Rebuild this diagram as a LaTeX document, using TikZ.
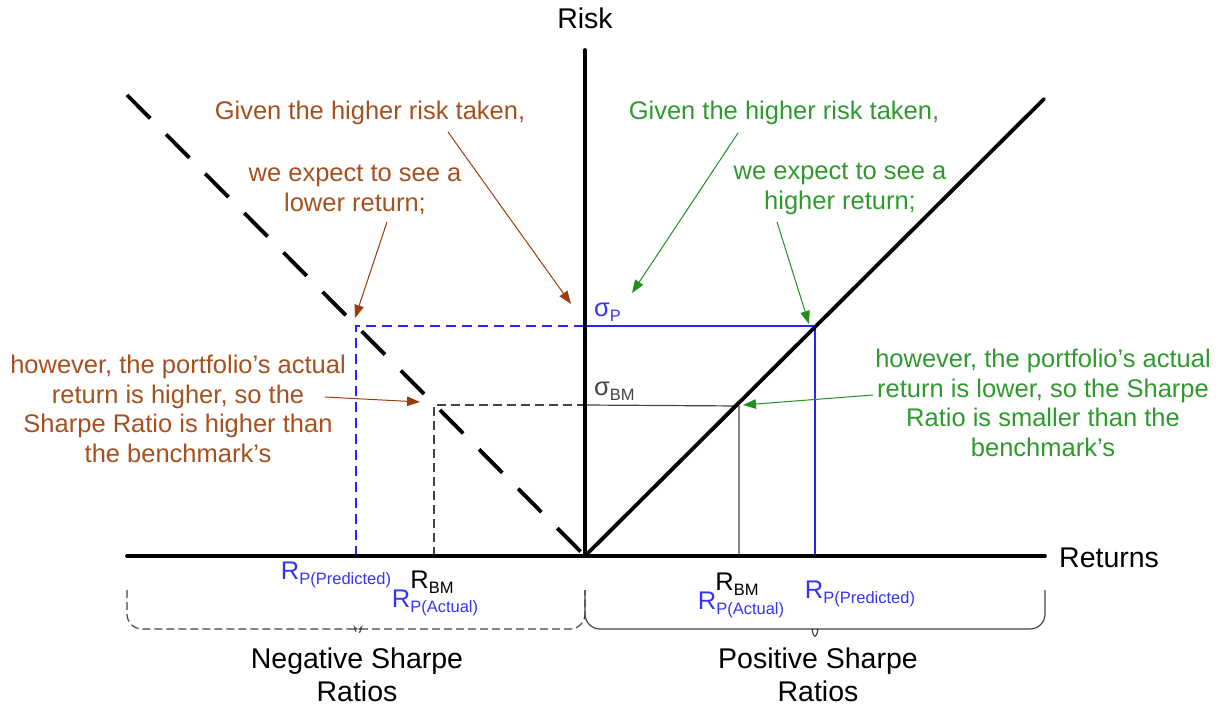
\documentclass[tikz,border=0pt]{standalone}
\usepackage{fontspec}
\setmainfont{Liberation Sans}
\usetikzlibrary{arrows.meta,positioning,calc}
\definecolor{rustbrown}{HTML}{A5501F}
\definecolor{arrowbrown}{HTML}{993D0F}
\definecolor{leafgreen}{HTML}{2E9A2E}
\definecolor{arrowgreen}{HTML}{1F8F1F}
\definecolor{riskblue}{HTML}{3535F5}
\definecolor{lineblue}{HTML}{2525FF}
\definecolor{bmgray}{HTML}{444444}
\newcommand{\lowsub}[1]{\raisebox{-0.35ex}{\fontsize{16.5}{16.5}\selectfont #1}}

\begin{document}
\begin{tikzpicture}[x=1pt,y=-1pt,
			txt/.style={font=\fontsize{25.5}{29.5}\selectfont,align=center,inner sep=0pt},
			big/.style={font=\fontsize{28.5}{33}\selectfont,align=center,inner sep=0pt},
			axisline/.style={line width=3.8pt,line cap=round},
			negline/.style={line width=3.8pt,dash pattern=on 33pt off 22.5pt},
			blueline/.style={lineblue,line width=1.4pt},
			bmline/.style={bmgray,line width=1.2pt},
			bracket/.style={bmgray,line width=1.2pt,rounded corners=15pt},
			note/.style={line width=1pt,-{Triangle[length=13pt,width=9.5pt]}}
			]
			\useasboundingbox (0,0) rectangle (1220,711);
			\coordinate (O) at (585,556);
			\coordinate (ytop) at (585,50);
			\coordinate (xl) at (127,556);
			\coordinate (xr) at (1045,556);
			\coordinate (pe) at (1044,99);
			\coordinate (ne) at (127,95);
			\coordinate (yP) at (585,326);
			\coordinate (pP) at (815,326);
			\coordinate (nP) at (356,326);
			\coordinate (pPx) at (815,556);
			\coordinate (nPx) at (356,556);
			\coordinate (yB) at (585,405);
			\coordinate (pB) at (739,406);
			\coordinate (nB) at (434,405);
			\coordinate (pBx) at (739,556);
			\coordinate (nBx) at (434,556);

			\draw[blueline,dash pattern=on 10pt off 6pt] (nPx) -- (nP) -- (yP);
			\draw[blueline] (yP) -- (pP) -- (pPx);
			\draw[bmline,dash pattern=on 9pt off 5pt] (nBx) -- (nB) -- (yB);
			\draw[bmline] (yB) -- (pB) -- (pBx);

			\draw[axisline] (xl) -- (xr);
			\draw[axisline] (O) -- (ytop);
			\draw[axisline] (O) -- (pe);
			\draw[negline] (ne) -- (O);

			\node[big] (risk) at (585,18) {Risk};
			\node[big,anchor=west] (returns) at (1059,558) {Returns};
			\node[txt,anchor=west,riskblue] (sigp) at (594,312) {σ\lowsub{P}};
			\node[txt,anchor=west,bmgray] (sigbm) at (594,391) {σ\lowsub{BM}};

			\node[txt,riskblue] (lpred) at (336,575) {R\lowsub{P(Predicted)}};
			\node[txt] (lbm) at (432,582) {R\lowsub{BM}};
			\node[txt,riskblue] (lact) at (435,603) {R\lowsub{P(Actual)}};
			\node[txt] (rbm) at (737,584) {R\lowsub{BM}};
			\node[txt,riskblue] (ract) at (741,605) {R\lowsub{P(Actual)}};
			\node[txt,riskblue] (rpred) at (860,594) {R\lowsub{P(Predicted)}};

			\node[txt,rustbrown] (bgiven) at (370,113) {Given the higher risk taken,};
			\node[txt,rustbrown] (bexpect) at (355,190) {we expect to see a\\lower return;};
			\node[txt,rustbrown] (bhow) at (178,409) {however, the portfolio’s actual\\return is higher, so the\\Sharpe Ratio is higher than\\the benchmark’s};
			\node[txt,leafgreen] (ggiven) at (784,113) {Given the higher risk taken,};
			\node[txt,leafgreen] (gexpect) at (840,189) {we expect to see a\\higher return;};
			\node[txt,leafgreen] (ghow) at (1043,403) {however, the portfolio’s actual\\return is lower, so the Sharpe\\Ratio is smaller than the\\benchmark’s};

			\coordinate (bt1) at (448,132);
			\coordinate (bh1) at (571,304);
			\coordinate (bt2) at (387,222);
			\coordinate (bh2) at (355,318);
			\coordinate (bt3) at (325,397);
			\coordinate (bh3) at (420,402);
			\coordinate (gt1) at (738,133);
			\coordinate (gh1) at (632,293);
			\coordinate (gt2) at (777,222);
			\coordinate (gh2) at (809,324);
			\coordinate (gt3) at (873,395);
			\coordinate (gh3) at (743,405);
			\draw[note,arrowbrown] (bt1) -- (bh1);
			\draw[note,arrowbrown] (bt2) -- (bh2);
			\draw[note,arrowbrown] (bt3) -- (bh3);
			\draw[note,arrowgreen] (gt1) -- (gh1);
			\draw[note,arrowgreen] (gt2) -- (gh2);
			\draw[note,arrowgreen] (gt3) -- (gh3);

			\draw[bracket,dash pattern=on 8pt off 4pt] (127,590) -- (127,629) -- (349,629) .. controls (355,629) .. (358,642) .. controls (361,629) .. (367,629) -- (585,629) -- (585,590);
			\draw[bracket] (585,590) -- (585,629) -- (806,629) .. controls (812,629) .. (815,645) .. controls (818,629) .. (824,629) -- (1045,629) -- (1045,590);
			\node[big] (neg) at (357,675) {Negative Sharpe\\Ratios};
			\node[big] (pos) at (818,675) {Positive Sharpe\\Ratios};
		\end{tikzpicture}
\end{document}
